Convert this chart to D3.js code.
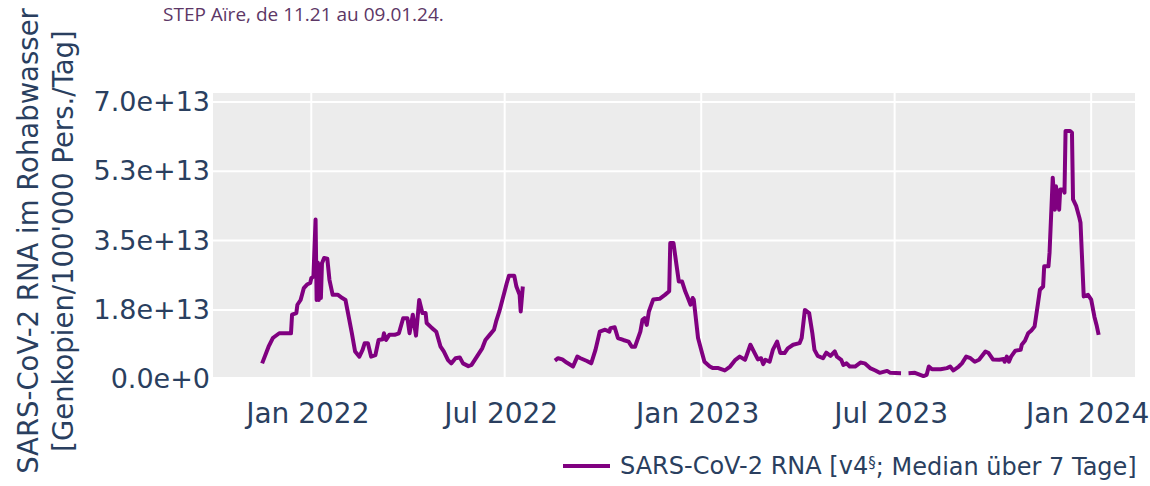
<!DOCTYPE html>
<html>
<head>
<meta charset="utf-8">
<script src="https://cdn.jsdelivr.net/npm/d3@7"></script>
<style>
  body { margin: 0; background: #fff; }
  svg { display: block; font-family: "DejaVu Sans", Verdana, sans-serif; }
</style>
</head>
<body>
<div id="chart"></div>
<script>
//chart size and plot box
const width = 1150;
const height = 486;
const plot = { left: 213, right: 1135, top: 93, bottom: 377 };

//Daily sampled values read off the picture (unit: 1e13 gene copies / 100'000 pers. / day)
//null marks a gap in the series
const dates = [
  "2021-11-16","2021-11-22","2021-11-26","2021-12-02","2021-12-13","2021-12-14","2021-12-18","2021-12-19",
  "2021-12-22","2021-12-25","2021-12-28","2021-12-31","2022-01-01","2022-01-03","2022-01-05","2022-01-06",
  "2022-01-07","2022-01-08","2022-01-09","2022-01-10","2022-01-11","2022-01-13","2022-01-16","2022-01-18",
  "2022-01-21","2022-01-26","2022-01-30","2022-02-02","2022-02-05","2022-02-08","2022-02-11","2022-02-15",
  "2022-02-18","2022-02-20","2022-02-23","2022-02-26","2022-03-02","2022-03-05","2022-03-09","2022-03-10",
  "2022-03-12","2022-03-15","2022-03-20","2022-03-24","2022-03-28","2022-04-01","2022-04-03","2022-04-06",
  "2022-04-09","2022-04-12","2022-04-15","2022-04-18","2022-04-19","2022-04-24","2022-04-28","2022-05-02",
  "2022-05-05","2022-05-09","2022-05-12","2022-05-16","2022-05-20","2022-05-23","2022-05-28","2022-05-31",
  "2022-06-05","2022-06-10","2022-06-13","2022-06-17","2022-06-21","2022-06-23","2022-06-26","2022-07-01",
  "2022-07-03","2022-07-05","2022-07-10","2022-07-12","2022-07-15","2022-07-16","2022-07-18",
  "2022-08-01",
  "2022-08-17","2022-08-20","2022-08-24","2022-08-28","2022-09-03","2022-09-07","2022-09-10","2022-09-16",
  "2022-09-20","2022-09-24","2022-09-28","2022-10-03","2022-10-07","2022-10-08","2022-10-12","2022-10-15",
  "2022-10-20","2022-10-25","2022-10-28","2022-10-31","2022-11-05","2022-11-07","2022-11-09","2022-11-11",
  "2022-11-13","2022-11-17","2022-11-23","2022-11-28","2022-12-02","2022-12-03","2022-12-06","2022-12-09",
  "2022-12-11","2022-12-14","2022-12-17","2022-12-19","2022-12-22","2022-12-24","2022-12-25","2022-12-29",
  "2023-01-01","2023-01-04","2023-01-09","2023-01-12","2023-01-17","2023-01-23","2023-01-28","2023-02-02",
  "2023-02-06","2023-02-11","2023-02-16","2023-02-20","2023-02-23","2023-02-26","2023-02-28","2023-03-02",
  "2023-03-06","2023-03-09","2023-03-13","2023-03-16","2023-03-20","2023-03-23","2023-03-28","2023-04-03",
  "2023-04-05","2023-04-08","2023-04-12","2023-04-15","2023-04-17","2023-04-20","2023-04-25","2023-04-28",
  "2023-05-02","2023-05-06","2023-05-08","2023-05-12","2023-05-14","2023-05-17","2023-05-20","2023-05-25",
  "2023-05-30","2023-06-03","2023-06-08","2023-06-13","2023-06-17","2023-06-24","2023-06-27","2023-07-07",
  "2023-07-10",
  "2023-07-14","2023-07-20","2023-07-28","2023-07-31","2023-08-02","2023-08-05","2023-08-13","2023-08-19",
  "2023-08-22","2023-08-25","2023-08-30","2023-09-02","2023-09-06","2023-09-10","2023-09-14","2023-09-18",
  "2023-09-24","2023-09-27","2023-10-01","2023-10-07","2023-10-11","2023-10-12","2023-10-14","2023-10-16",
  "2023-10-18","2023-10-22","2023-10-27","2023-10-28","2023-10-31","2023-11-03","2023-11-06","2023-11-09",
  "2023-11-12","2023-11-14","2023-11-17","2023-11-18","2023-11-22","2023-11-23","2023-11-26","2023-11-28",
  "2023-11-29","2023-12-02","2023-12-03","2023-12-06","2023-12-07","2023-12-08","2023-12-12","2023-12-14",
  "2023-12-15","2023-12-18","2023-12-21","2023-12-22","2023-12-25","2023-12-29","2024-01-01","2024-01-04",
  "2024-01-06","2024-01-08"
];

const valuesE13 = [
  0.40,0.82,1.04,1.16,1.16,1.63,1.67,1.88,
  2.00,2.30,2.39,2.43,2.55,2.59,4.03,2.00,
  2.95,2.00,2.89,2.05,2.93,3.06,3.04,2.51,
  2.13,2.13,2.05,2.00,1.58,1.16,0.70,0.57,
  0.74,0.91,0.91,0.57,0.61,0.99,1.01,1.16,
  0.99,1.12,1.12,1.16,1.54,1.54,1.16,1.63,
  1.10,2.00,1.67,1.67,1.42,1.29,1.20,0.82,
  0.70,0.48,0.40,0.53,0.55,0.40,0.33,0.36,
  0.57,0.78,0.99,1.12,1.25,1.46,1.71,2.22,
  2.43,2.61,2.61,2.34,2.13,1.71,2.34,
  null,
  0.47,0.53,0.50,0.42,0.32,0.57,0.53,0.46,
  0.40,0.74,1.20,1.25,1.20,1.29,1.31,1.04,
  0.99,0.95,0.82,0.82,1.20,1.50,1.54,1.37,
  1.71,2.01,2.03,2.13,2.22,3.44,3.44,2.85,
  2.47,2.47,2.22,2.09,1.88,2.05,2.01,1.04,
  0.74,0.44,0.32,0.28,0.28,0.22,0.32,0.49,
  0.57,0.49,0.87,0.66,0.50,0.53,0.38,0.49,
  0.44,0.74,0.95,0.66,0.66,0.78,0.87,0.91,
  1.04,1.75,1.67,1.16,0.74,0.59,0.53,0.67,
  0.59,0.70,0.57,0.49,0.36,0.40,0.32,0.32,
  0.42,0.40,0.28,0.22,0.16,0.21,0.16,0.15,
  null,
  0.15,0.16,0.08,0.11,0.32,0.25,0.25,0.28,
  0.32,0.22,0.32,0.40,0.57,0.53,0.44,0.49,
  0.70,0.66,0.50,0.49,0.51,0.44,0.57,0.44,
  0.57,0.72,0.74,0.87,0.97,1.16,1.23,1.33,
  1.88,2.26,2.34,2.85,2.85,3.19,5.09,4.28,
  4.87,4.28,4.79,4.79,4.71,6.27,6.27,6.23,
  4.54,4.37,4.07,3.95,2.09,2.13,2.01,1.58,
  1.37,1.12
];

//axis ticks
const yTickValues = [0, 1.75e13, 3.5e13, 5.25e13, 7.0e13];
const yTickLabels = ["0.0e+0", "1.8e+13", "3.5e+13", "5.3e+13", "7.0e+13"];
const xTickDates = ["2022-01-01", "2022-07-01", "2023-01-01", "2023-07-01", "2024-01-01"];
const xTickLabels = ["Jan 2022", "Jul 2022", "Jan 2023", "Jul 2023", "Jan 2024"];

const parse = d3.timeParse("%Y-%m-%d");
const data = dates.map((d, i) => ({
  date: parse(d),
  value: valuesE13[i] === null ? null : valuesE13[i] * 1e13
}));

//scales
const x = d3.scaleTime()
  .domain([parse("2021-10-01"), parse("2024-02-11")])
  .range([plot.left, plot.right]);

const y = d3.scaleLinear()
  .domain([0, 7.0e13])
  .range([379.2, 102]);

const svg = d3.create("svg")
  .attr("width", width)
  .attr("height", height)
  .attr("viewBox", [0, 0, width, height]);

//plot background
svg.append("rect")
  .attr("x", plot.left)
  .attr("y", plot.top)
  .attr("width", plot.right - plot.left)
  .attr("height", plot.bottom - plot.top)
  .attr("fill", "#ececec");

//vertical grid
svg.append("g")
  .selectAll("line")
  .data(xTickDates)
  .join("line")
  .attr("x1", d => x(parse(d)))
  .attr("x2", d => x(parse(d)))
  .attr("y1", plot.top)
  .attr("y2", plot.bottom)
  .attr("stroke", "#fff")
  .attr("stroke-width", 2);

//horizontal grid (zero falls just under the box)
svg.append("g")
  .selectAll("line")
  .data(yTickValues.filter(v => y(v) < plot.bottom))
  .join("line")
  .attr("x1", plot.left)
  .attr("x2", plot.right)
  .attr("y1", d => y(d))
  .attr("y2", d => y(d))
  .attr("stroke", "#fff")
  .attr("stroke-width", 2);

//y axis labels
const yAxis = svg.append("g")
  .attr("transform", `translate(${plot.left},0)`)
  .call(d3.axisLeft(y)
    .tickValues(yTickValues)
    .tickSize(0)
    .tickPadding(3)
    .tickFormat((d, i) => yTickLabels[i]));

//x axis labels (sit a little left of their grid line in the original)
const xAxis = svg.append("g")
  .attr("transform", `translate(-4,${plot.bottom})`)
  .call(d3.axisBottom(x)
    .tickValues(xTickDates.map(parse))
    .tickSize(0)
    .tickPadding(26)
    .tickFormat((d, i) => xTickLabels[i]));

[yAxis, xAxis].forEach(a => {
  a.select(".domain").remove();
  a.selectAll("text")
    .attr("fill", "#2a3f5f")
    .style("font-family", "'DejaVu Sans', Verdana, sans-serif");
});
yAxis.selectAll("text").style("font-size", "27px");
xAxis.selectAll("text").style("font-size", "28px");

//the series line
const line = d3.line()
  .defined(d => d.value !== null)
  .x(d => x(d.date))
  .y(d => y(d.value));

svg.append("path")
  .datum(data)
  .attr("fill", "none")
  .attr("stroke", "#800080")
  .attr("stroke-width", 4)
  .attr("stroke-linejoin", "round")
  .attr("d", line);

//y axis title (two lines, rotated)
const cy = (plot.top + plot.bottom) / 2 + 6;
const yTitle = svg.append("text")
  .attr("transform", `translate(28,${cy}) rotate(-90)`)
  .attr("text-anchor", "middle")
  .attr("fill", "#2a3f5f")
  .style("font-size", "27.5px");
yTitle.append("tspan").attr("x", 0).attr("dy", "0.35em").text("SARS-CoV-2 RNA im Rohabwasser");
yTitle.append("tspan").attr("x", 0).attr("dy", "1.27em").text("[Genkopien/100'000 Pers./Tag]");

//legend
const legend = svg.append("g").attr("transform", "translate(563,466)");
legend.append("line")
  .attr("x1", 0).attr("x2", 47)
  .attr("stroke", "#800080")
  .attr("stroke-width", 4);
const legendText = legend.append("text")
  .attr("x", 57)
  .attr("dy", "0.35em")
  .attr("fill", "#2a3f5f")
  .style("font-size", "24px");
legendText.append("tspan").text("SARS-CoV-2 RNA [v4");
legendText.append("tspan").attr("dy", "-0.45em").style("font-size", "15px").text("§");
legendText.append("tspan").attr("dy", "0.3em").text("; Median über 7 Tage]");

//caption fragment at the top
svg.append("text")
  .attr("x", 163)
  .attr("y", 21)
  .attr("fill", "#5d3766")
  .style("font-family", "'Open Sans', sans-serif")
  .style("font-size", "19px")
  .text("STEP Aïre, de 11.21 au 09.01.24.");

d3.select("#chart").node().append(svg.node());
</script>
</body>
</html>
